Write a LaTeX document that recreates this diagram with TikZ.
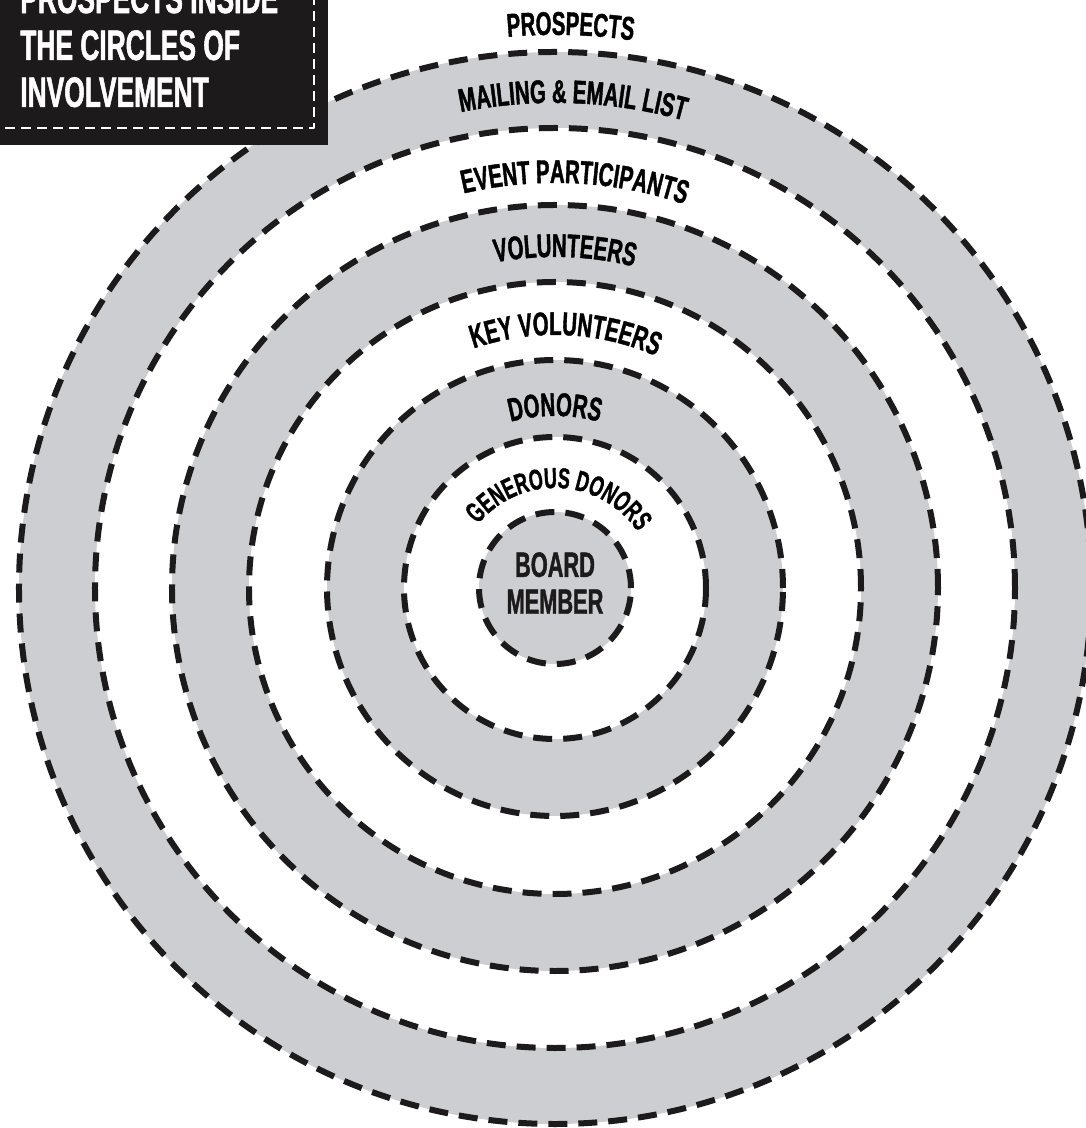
\documentclass[tikz,border=0pt]{standalone}
\usepackage{fontspec}
\setmainfont{Liberation Sans}
\newfontfamily\condfont{Liberation Sans}[FakeStretch=0.62,BoldFeatures={FakeBold=1.2}]
\usetikzlibrary{decorations.text}

\definecolor{ringgray}{RGB}{205,206,210}
\definecolor{inkblack}{RGB}{28,26,27}

\newcommand{\lblfont}{\condfont\bfseries\fontsize{18.7}{22}\selectfont}
\newcommand{\smallfont}{\condfont\bfseries\fontsize{16.4}{19}\selectfont}
\newcommand{\titlefont}{\condfont\bfseries\fontsize{24.2}{26.7}\selectfont}
\newcommand{\boardfont}{\condfont\bfseries\fontsize{20}{21}\selectfont}

\tikzset{
  ring/.style={draw=inkblack,line width=0.12cm,dash pattern=on 0.38cm off 0.22cm},
  arclabel/.style={decorate,decoration={text along path,text align=center,text={#1}}}
}

\begin{document}
\begin{tikzpicture}[x=0.02cm,y=0.02cm,line cap=butt,line join=round]
  \useasboundingbox (-555,-540) rectangle (530,588);

  % Rings, filled from the outside in
  \foreach \r/\c in {536/ringgray,460/white,383/ringgray,306/white,228/ringgray,151/white,76/ringgray}
    \fill[\c] (0,0) circle[radius=\r];
  \foreach \r in {536,460,383,306,228,151,76}
    \draw[ring] (0,0) circle[radius=\r];

  % Ring labels along arcs
  \path[arclabel={|\lblfont|PROSPECTS}] (158.4:553) arc[start angle=158.4,end angle=18.4,radius=553];
  \path[arclabel={|\lblfont|MAILING {\&} EMAIL LIST}] (157.9:485) arc[start angle=157.9,end angle=17.9,radius=485];
  \path[arclabel={|\lblfont|EVENT PARTICIPANTS}] (157.2:405) arc[start angle=157.2,end angle=17.2,radius=405];
  \path[arclabel={|\lblfont|VOLUNTEERS}] (158.3:331) arc[start angle=158.3,end angle=18.3,radius=331];
  \path[arclabel={|\lblfont|KEY VOLUNTEERS}] (157.6:253) arc[start angle=157.6,end angle=17.6,radius=253];
  \path[arclabel={|\lblfont|DONORS}] (160:172) arc[start angle=160,end angle=20,radius=172];
  \path[arclabel={|\smallfont|GENEROUS DONORS}] (177.3:100) arc[start angle=177.3,end angle=-2.7,radius=100];

  \node[align=center,inner sep=0,font=\boardfont,text=inkblack] (board) at (0,5) {BOARD\\MEMBER};

  % Title panel
  \fill[inkblack] (-560,600) rectangle (-227,443);
  \draw[white,line width=0.05cm,dash pattern=on 0.2cm off 0.12cm] (-550,460) -- (-241,460) -- (-241,600);
  \node[anchor=north west,inner sep=0,align=left,text=white,font=\titlefont] (title) at (-535,605)
    {PROSPECTS INSIDE\\THE CIRCLES OF\\INVOLVEMENT};
\end{tikzpicture}
\end{document}
